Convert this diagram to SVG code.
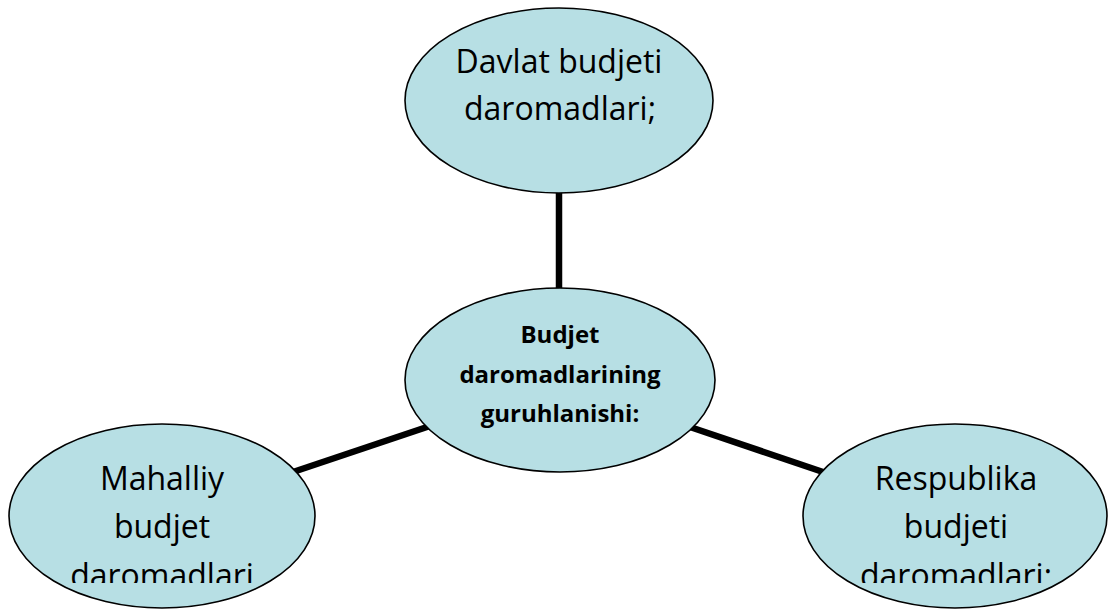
<svg xmlns="http://www.w3.org/2000/svg" width="1109" height="610" viewBox="0 0 1109 610">
<style>
.node{fill:#b7dfe4;stroke:#000;stroke-width:1.6}
.conn{stroke:#000;stroke-width:6.5;fill:none}
.t{font-family:"Open Sans","Liberation Sans",sans-serif;font-size:32px;fill:#000;text-anchor:middle}
.tb{font-family:"Open Sans","Liberation Sans",sans-serif;font-size:24px;font-weight:bold;fill:#000;text-anchor:middle}
</style>
<defs>
<clipPath id="clipL"><rect x="0" y="400" width="330" height="183"/></clipPath>
<clipPath id="clipR"><rect x="790" y="400" width="319" height="183"/></clipPath>
</defs>
<rect width="1109" height="610" fill="#fff"/>
<g id="connectors">
<line class="conn" x1="559" y1="190" x2="559" y2="292"/>
<line class="conn" x1="293" y1="472" x2="430" y2="426"/>
<line class="conn" x1="687" y1="426" x2="826" y2="473"/>
</g>
<g id="top">
<ellipse class="node" cx="559" cy="100.5" rx="154" ry="92.5"/>
<text class="t" x="559" y="73">Davlat budjeti</text>
<text class="t" x="560" y="120">daromadlari;</text>
</g>
<g id="center">
<ellipse class="node" cx="560" cy="380" rx="155" ry="92"/>
<text class="tb" x="560" y="343">Budjet</text>
<text class="tb" x="560" y="383">daromadlarining</text>
<text class="tb" x="560" y="422">guruhlanishi:</text>
</g>
<g id="left">
<ellipse class="node" cx="162" cy="516" rx="153" ry="92"/>
<g clip-path="url(#clipL)">
<text class="t" x="162" y="490">Mahalliy</text>
<text class="t" x="162" y="538">budjet</text>
<text class="t" x="162" y="587">daromadlari</text>
</g>
</g>
<g id="right">
<ellipse class="node" cx="955" cy="516" rx="152" ry="92"/>
<g clip-path="url(#clipR)">
<text class="t" x="956" y="490">Respublika</text>
<text class="t" x="956" y="538">budjeti</text>
<text class="t" x="956" y="587">daromadlari;</text>
</g>
</g>
</svg>
